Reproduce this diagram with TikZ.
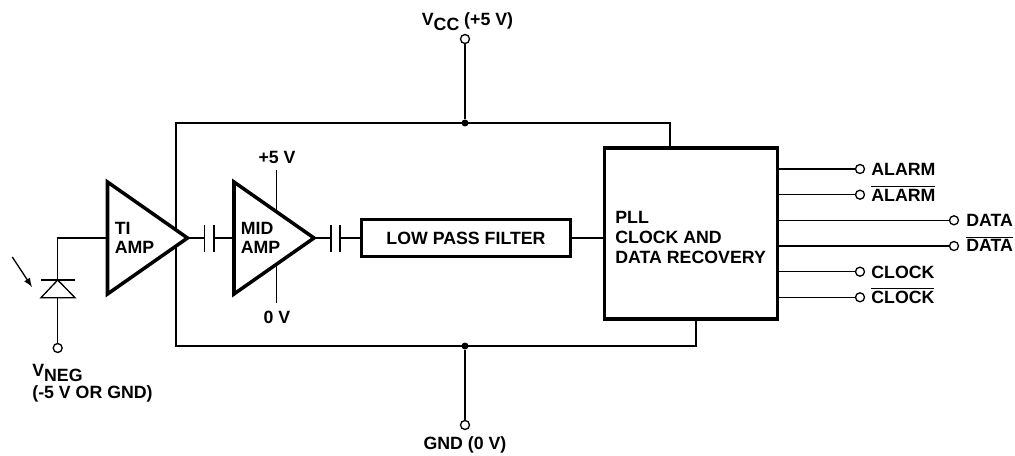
\documentclass[tikz,border=0pt]{standalone}
\usepackage{fontspec}
\setmainfont{Liberation Sans}
\tikzset{
	wire/.style={line width=0.75pt},
	heavy/.style={line width=2pt, line join=miter, fill=white},
	pad/.style={circle, draw, line width=0.75pt, fill=white, inner sep=0pt, minimum size=0.18cm},
	dot/.style={circle, fill=black, inner sep=0pt, minimum size=0.14cm},
	lbl/.style={inner sep=0pt, anchor=base west, font=\fontsize{10.1}{11}\selectfont\bfseries},
	lblc/.style={lbl, anchor=base}
}
\newcommand{\lowered}[1]{\raisebox{-0.1cm}{#1}}
\newcommand{\barred}[1]{$\overline{\mbox{#1}}$}
\begin{document}
\begin{tikzpicture}[x=0.02cm, y=-0.02cm]
	\useasboundingbox (0, 0) rectangle (1015, 456);
	%rails
	\node[pad] (vccpad) at (465, 39) {};
	\node[pad] (gndpad) at (465, 425) {};
	\node[dot] (vccdot) at (465, 123) {};
	\node[dot] (gnddot) at (465, 346) {};
	\coordinate (railtl) at (176, 123);
	\coordinate (railtr) at (670, 123);
	\coordinate (railbl) at (176, 346);
	\coordinate (railbr) at (696, 346);
	\node[draw, heavy, outer sep=0pt, minimum width=3.46cm, minimum height=3.43cm] (pll) at (691, 233.5) {};
	\draw[wire] (vccpad) -- (vccdot);
	\draw[wire] (gndpad) -- (gnddot);
	\draw[wire] (railtr |- pll.north) -- (railtr) -- (railtl) -- (railbl) -- (railbr) -- (railbr |- pll.south);
	%amps
	\coordinate (midtop) at (276.7, 170);
	\coordinate (midbot) at (276.7, 303);
	\draw[wire] (midtop) -- (midbot);%Supply
	\coordinate (tia) at (107.5, 182);
	\coordinate (tib) at (107.5, 294);
	\coordinate (tic) at (187.5, 238);
	\coordinate (mida) at (234, 182);
	\coordinate (midb) at (234, 294);
	\coordinate (midc) at (314, 238);
	\draw[heavy] (tia) -- (tic) -- (tib) -- cycle;
	\draw[heavy] (mida) -- (midc) -- (midb) -- cycle;
	\node[lbl] (tilabel) at (114.5, 235) {TI};
	\node[lbl] (tilabelb) at (114.5, 254) {AMP};
	\node[lbl] (midlabel) at (240.5, 235) {MID};
	\node[lbl] (midlabelb) at (240.5, 254) {AMP};
	\node[lblc] (plus) at (277, 164) {+5 V};
	\node[lblc] (zero) at (277, 323) {0 V};
	%coupling caps
	\coordinate (capal) at (204.5, 238);
	\coordinate (capar) at (213.7, 238);
	\coordinate (capbl) at (331, 238);
	\coordinate (capbr) at (340, 238);
	\draw[wire] (tic) -- (capal);
	\draw[wire] (capar) -- (mida |- capar);
	\draw[wire] (midc) -- (capbl);
	\draw[wire, line width=1pt] (204.5, 225) -- (204.5, 252);
	\draw[wire, line width=1pt] (213.7, 225) -- (213.7, 252);
	\draw[wire, line width=1pt] (331, 225) -- (331, 252);
	\draw[wire, line width=1pt] (340, 225) -- (340, 252);
	%filter
	\node[draw, heavy, outer sep=0pt, minimum width=4.18cm, minimum height=0.74cm, inner sep=0pt, font=\fontsize{10.1}{11}\selectfont\bfseries] (lpf) at (466, 238) {LOW PASS FILTER};
	\draw[wire] (capbr) -- (lpf.west);
	\draw[wire] (lpf.east) -- (pll.west |- lpf.east);
	%pll text
	\node[lbl] (plla) at (615, 223) {PLL};
	\node[lbl] (pllb) at (615, 243.5) {CLOCK AND};
	\node[lbl] (pllc) at (615, 263.5) {DATA RECOVERY};
	%outputs
	\node[pad] (alarmpad) at (860, 169) {};
	\node[pad] (nalarmpad) at (860, 194.7) {};
	\node[pad] (datapad) at (954, 220.3) {};
	\node[pad] (ndatapad) at (954, 246) {};
	\node[pad] (clockpad) at (860, 271.7) {};
	\node[pad] (nclockpad) at (860, 297.3) {};
	\draw[wire] (pll.east |- alarmpad) -- (alarmpad);
	\draw[wire] (pll.east |- nalarmpad) -- (nalarmpad);
	\draw[wire] (pll.east |- datapad) -- (datapad);
	\draw[wire] (pll.east |- ndatapad) -- (ndatapad);
	\draw[wire] (pll.east |- clockpad) -- (clockpad);
	\draw[wire] (pll.east |- nclockpad) -- (nclockpad);
	\node[lbl] (alarm) at (871, 175.5) {ALARM};
	\node[lbl] (nalarm) at (871, 201) {\barred{ALARM}};
	\node[lbl] (data) at (966, 226.5) {DATA};
	\node[lbl] (ndata) at (966, 252) {\barred{DATA}};
	\node[lbl] (clock) at (871, 278) {CLOCK};
	\node[lbl] (nclock) at (871, 303.5) {\barred{CLOCK}};
	%supply labels
	\node[lbl] (vcc) at (421.5, 26) {V\lowered{CC} (+5 V)};
	\node[lblc] (gnd) at (465, 449) {GND (0 V)};
	%photodiode
	\node[pad] (negpad) at (57.7, 348) {};
	\coordinate (diodetop) at (57.7, 280);
	\coordinate (diodebot) at (57.7, 297.7);
	\coordinate (diodel) at (41, 297.7);
	\coordinate (dioder) at (75, 297.7);
	\draw[wire] (tia |- tic) -- (diodetop |- tic) -- (diodetop);
	\draw[wire] (diodebot) -- (negpad);
	\draw[wire] (diodetop) -- (diodel) -- (dioder) -- cycle;
	\draw[wire, line width=1pt] (41, 280) -- (75, 280);
	\coordinate (lighta) at (12.3, 257);
	\coordinate (lightb) at (32, 287);
	\draw[wire, ->, >=latex] (lighta) -- (lightb);%Light
	\node[lbl] (vneg) at (32, 376) {V\lowered{NEG}};
	\node[lbl] (vnegb) at (32, 398) {(-5 V OR GND)};
\end{tikzpicture}
\end{document}
